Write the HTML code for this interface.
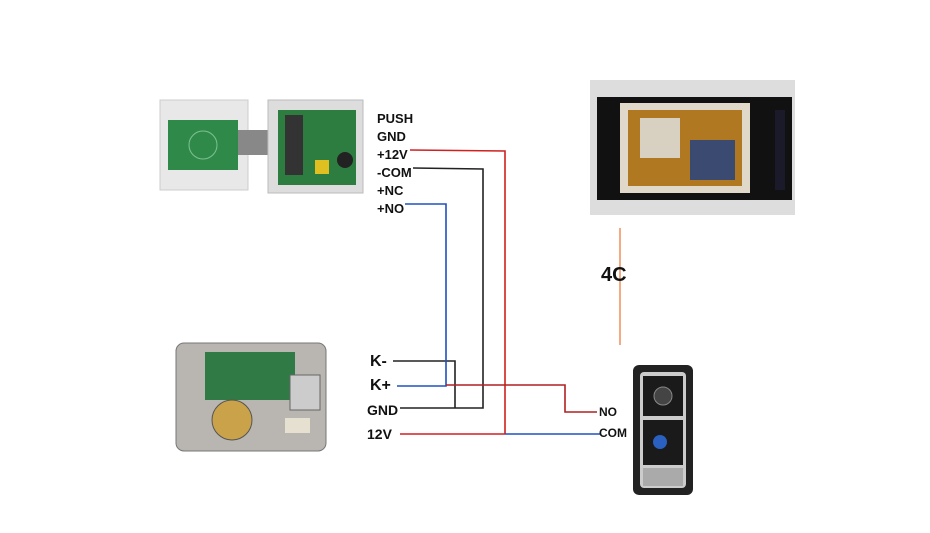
<!DOCTYPE html>
<html><head><style>
body{margin:0;width:930px;height:533px;background:#fff;position:relative;overflow:hidden;font-family:"Liberation Sans",sans-serif;font-weight:bold;color:#111}
.t{position:absolute;font-size:13px}
</style></head><body>
<svg width="930" height="533" style="position:absolute;left:0;top:0">
<!-- card reader -->
<rect x="160" y="100" width="88" height="90" fill="#e8e8e8" stroke="#ccc"/>
<rect x="168" y="120" width="70" height="50" fill="#2f8a4a"/>
<circle cx="203" cy="145" r="14" fill="none" stroke="#7fc08f"/>
<rect x="238" y="130" width="34" height="25" fill="#888"/>
<rect x="268" y="100" width="95" height="93" fill="#ddd" stroke="#bbb"/>
<rect x="278" y="110" width="78" height="75" fill="#2d7d40"/>
<rect x="285" y="115" width="18" height="60" fill="#333"/>
<circle cx="345" cy="160" r="8" fill="#222"/>
<rect x="315" y="160" width="14" height="14" fill="#e0c020"/>
<!-- lock -->
<rect x="176" y="343" width="150" height="108" rx="8" fill="#b9b5b0" stroke="#777"/>
<rect x="205" y="352" width="90" height="48" fill="#2f7a45"/>
<circle cx="232" cy="420" r="20" fill="#c9a24a" stroke="#555"/>
<rect x="290" y="375" width="30" height="35" fill="#ccc" stroke="#666"/>
<rect x="285" y="418" width="25" height="15" fill="#e6e0d0"/>
<!-- monitor -->
<rect x="590" y="80" width="205" height="135" fill="#ddd"/>
<rect x="597" y="97" width="195" height="103" fill="#111"/>
<rect x="620" y="103" width="130" height="90" fill="#e0d8c8"/>
<rect x="628" y="110" width="114" height="76" fill="#b07820"/>
<rect x="640" y="118" width="40" height="40" fill="#d8d0c0"/>
<rect x="690" y="140" width="45" height="40" fill="#3a4a70"/>
<rect x="775" y="110" width="10" height="80" fill="#1a1a2a"/>
<!-- door station -->
<rect x="633" y="365" width="60" height="130" rx="6" fill="#222"/>
<rect x="640" y="372" width="46" height="116" rx="4" fill="#ccc"/>
<rect x="643" y="376" width="40" height="40" fill="#1a1a1a"/>
<circle cx="663" cy="396" r="9" fill="#444" stroke="#888"/>
<rect x="643" y="420" width="40" height="45" fill="#1a1a1a"/>
<circle cx="660" cy="442" r="7" fill="#2a60c0"/>
<rect x="643" y="468" width="40" height="18" fill="#aaa"/>
<!-- wires -->
<g fill="none" stroke-width="1.6">
<polyline points="410,150 505,151 505,434" stroke="#d02020"/>
<polyline points="400,434 505,434" stroke="#d02020"/>
<polyline points="505,434 600,434" stroke="#2050c0"/>
<polyline points="413,168 483,169 483,408 400,408" stroke="#222"/>
<polyline points="393,361 455,361 455,408" stroke="#222"/>
<polyline points="405,204 446,204 446,386 397,386" stroke="#2050c0"/>
<polyline points="446,385 565,385 565,412 597,412" stroke="#b02020"/>
<line x1="620" y1="228" x2="620" y2="345" stroke="#f07030" stroke-width="1.2"/>
</g>
</svg>
<div class="t" style="left:377px;top:111px">PUSH</div>
<div class="t" style="left:377px;top:129px">GND</div>
<div class="t" style="left:377px;top:147px">+12V</div>
<div class="t" style="left:377px;top:165px">-COM</div>
<div class="t" style="left:377px;top:183px">+NC</div>
<div class="t" style="left:377px;top:201px">+NO</div>
<div class="t" style="left:370px;top:353px;font-size:16px">K-</div>
<div class="t" style="left:370px;top:377px;font-size:16px">K+</div>
<div class="t" style="left:367px;top:402px;font-size:14px">GND</div>
<div class="t" style="left:367px;top:426px;font-size:14px">12V</div>
<div class="t" style="left:599px;top:405px;font-size:12px">NO</div>
<div class="t" style="left:599px;top:426px;font-size:12px">COM</div>
<div class="t" style="left:601px;top:264px;font-size:20px">4C</div>
</body></html>
